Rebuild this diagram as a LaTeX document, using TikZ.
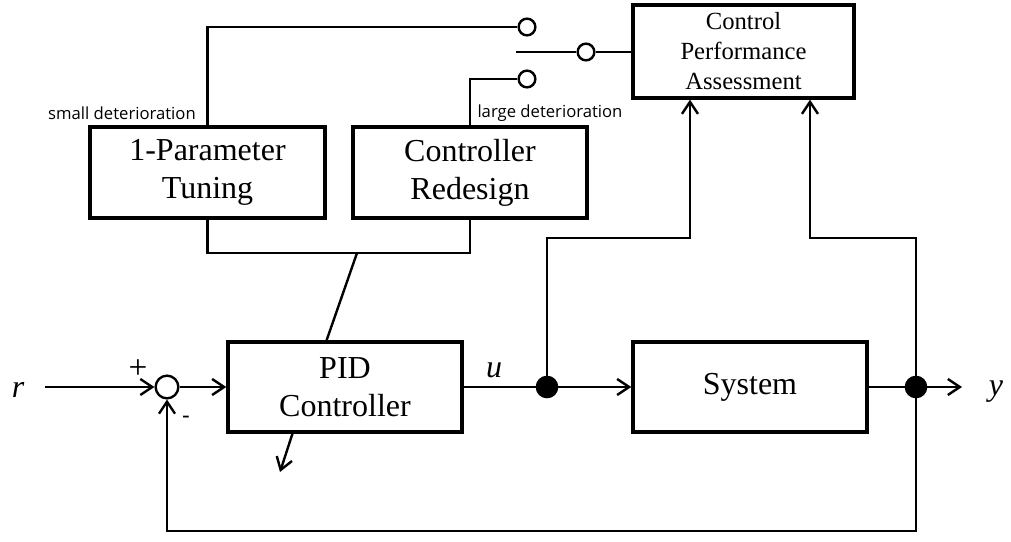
\documentclass[tikz,border=0pt]{standalone}
\usepackage{fontspec}
\setmainfont{Liberation Serif}
\newfontfamily\lblfont{Open Sans}
\usetikzlibrary{arrows.meta,calc}
\begin{document}
\begin{tikzpicture}[x=0.75pt,y=-0.75pt,
  blk/.style={draw,line width=2.6pt,rectangle,align=center,inner sep=0pt,
    font=\fontsize{24}{28.5}\selectfont},
  wire/.style={line width=1.8pt},
  arr/.style={wire,-{Straight Barb[length=9pt,width=12pt,line width=1.8pt]}},
  contact/.style={draw,circle,line width=1.8pt,minimum size=12.5pt,inner sep=0pt,fill=white},
  dot/.style={circle,fill=black,minimum size=17pt,inner sep=0pt},
  sumc/.style={draw,circle,line width=1.8pt,minimum size=17pt,inner sep=0pt},
  lbl/.style={font=\lblfont\fontsize{12.5}{14}\selectfont},
  var/.style={font=\fontsize{24}{26}\selectfont\itshape}]
\useasboundingbox (0,0) rectangle (1011,542);
% boxes
\node[blk,minimum width=176.25pt,minimum height=68.25pt] (tune) at (207.5,172.5) {1-Parameter\\Tuning};
\node[blk,minimum width=175.5pt,minimum height=68.25pt] (redes) at (470,172.5) {Controller\\Redesign};
\node[blk,minimum width=165.75pt,minimum height=69.75pt,font=\fontsize{18.5}{22.5}\selectfont] (cpa) at (743.5,51.5) {Control\\Performance\\Assessment};
\node[blk,minimum width=175.5pt,minimum height=67.5pt] (pid) at (345,387) {PID\\Controller};
\node[blk,minimum width=175.5pt,minimum height=67.5pt] (sys) at (750,387) {System};
% junctions
\node[sumc] (sum) at (167,387) {};
\node[dot] (du) at (547,387) {};
\node[dot] (dy) at (916,387) {};
% switch contacts
\node[contact] (c1) at (527,27) {};
\node[contact] (c2) at (586,52) {};
\node[contact] (c3) at (527,79) {};
% coordinates
\coordinate (rin) at (45,387);
\coordinate (yout) at (962,387);
\coordinate (swin) at (516,52);
\coordinate (fbl) at (167,531);
\coordinate (fbr) at (916,531);
\coordinate (ub) at (547,238);
\coordinate (uc) at (690,238);
\coordinate (yb) at (916,238);
\coordinate (yc) at (810,238);
\coordinate (brl) at (207.5,253);
\coordinate (brr) at (470,253);
\coordinate (brm) at (357,253);
\coordinate (pidtop) at (326,342);
\coordinate (pidbot) at (293,432);
\coordinate (pidout) at (280,472);
% texts
\node[var] (rlab) at (18,390) {r};
\node[var] (ulab) at (494,370) {u};
\node[var] (ylab) at (996,392) {y};
\node[font=\fontsize{25}{27}\selectfont] (plus) at (138,369) {+};
\node[lbl,font=\lblfont\fontsize{18}{20}\selectfont] (minus) at (186,420) {-};
\node[lbl] (small) at (122,113) {small deterioration};
\node[lbl] (large) at (550,113) {large deterioration};
% signal path
\draw[arr] (rin) -- (sum.west);
\draw[arr] (sum.east) -- (pid.west);
\draw[wire] (pid.east) -- (du.center);
\draw[arr] (du.center) -- (sys.west);
\draw[wire] (sys.east) -- (dy.center);
\draw[arr] (dy.center) -- (yout);
\draw[arr] (dy.center) -- (fbr) -- (fbl) -- (sum.south);
% to assessment
\draw[arr] (du.center) -- (ub) -- (uc) -- (uc |- cpa.south);
\draw[arr] (dy.center) -- (yb) -- (yc) -- (yc |- cpa.south);
% switch
\draw[wire] (tune.north) |- (c1.west);
\draw[wire] (redes.north) |- (c3.west);
\draw[wire] (swin) -- (c2.west);
\draw[wire] (c2.east) -- (c2 -| cpa.west);
% bracket to PID
\draw[wire] (tune.south) -- (brl) -- (brr) -- (redes.south);
\draw[wire] (brm) -- (pidtop);
\draw[arr] (pidbot) -- (pidout);
\end{tikzpicture}
\end{document}
